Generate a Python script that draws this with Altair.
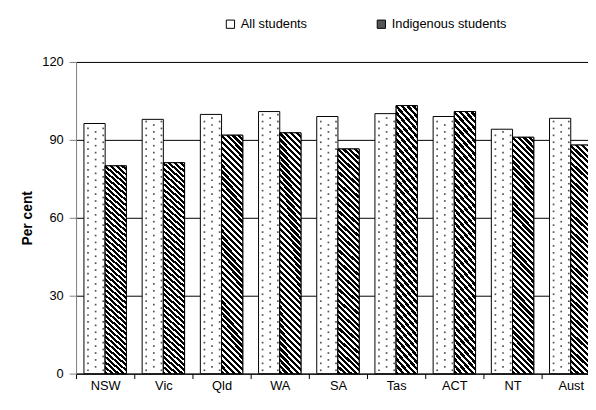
import altair as alt
import pandas as pd

categories = ["NSW", "Vic", "Qld", "WA", "SA", "Tas", "ACT", "NT", "Aust"]
all_students = [96.3, 97.9, 99.8, 100.9, 99.0, 100.1, 99.0, 94.1, 98.3]
indigenous = [80.0, 81.2, 91.8, 92.7, 86.5, 103.2, 100.9, 91.0, 88.0]
series = ["All students", "Indigenous students"]
y_ticks = [0, 30, 60, 90, 120]

rows = []
for c, a, i in zip(categories, all_students, indigenous):
    rows.append({"state": c, "series": series[0], "value": a})
    rows.append({"state": c, "series": series[1], "value": i})
df = pd.DataFrame(rows)

FONT = "Liberation Sans"
FS = 13
PLOT_W = 519
PLOT_H = 316
STEP = 59

# diagonal stripe gradient for the Indigenous bars
N = 44
stops = []
for k in range(N):
    stops.append({"offset": k / N, "color": "#000000"})
    stops.append({"offset": (k + 0.55) / N, "color": "#000000"})
    stops.append({"offset": (k + 0.55) / N, "color": "#ffffff"})
    stops.append({"offset": (k + 1) / N, "color": "#ffffff"})
ratio = 11.0
ga = (1 + ratio) / (1 + ratio * ratio)
stripes = {"gradient": "linear", "x1": 0, "y1": 1, "x2": ga, "y2": 1 - ratio * ga, "stops": stops}

xscale = alt.Scale(domain=categories, range=[0, STEP * len(categories)], paddingInner=0, paddingOuter=0)
xaxis = alt.Axis(title=None, tickBand="extent", labelAngle=0, labelFont=FONT, labelFontSize=FS,
                 labelColor="#000000", tickSize=5, tickColor="#000000", domainColor="#000000",
                 labelPadding=1, grid=False)
yscale = alt.Scale(domain=[0, 120], nice=False)
yaxis = alt.Axis(title="Per cent", values=y_ticks, titleFont=FONT, titleFontSize=14, titleFontWeight="bold",
                 titleColor="#000000", titlePadding=7, labelFont=FONT, labelFontSize=FS, labelColor="#000000",
                 labelPadding=6, tickSize=7, tickColor="#808080", domainColor="#808080",
                 grid=True, gridColor="#000000", gridOpacity=1, gridWidth=1)
xoff = alt.XOffset("series:N", scale=alt.Scale(domain=series, paddingInner=0, paddingOuter=0.372))

base = alt.Chart(df)

bars = base.mark_bar(stroke="#000000", strokeWidth=1).encode(
    x=alt.X("state:N", sort=categories, scale=xscale, axis=xaxis),
    xOffset=xoff,
    y=alt.Y("value:Q", scale=yscale, axis=yaxis),
    color=alt.Color("series:N", scale=alt.Scale(domain=series, range=["#ffffff", "#555555"]),
                    legend=alt.Legend(title=None, orient="none", legendX=150, legendY=-45,
                                      direction="horizontal", symbolType="square", symbolSize=70,
                                      symbolStrokeColor="#000000", symbolStrokeWidth=1,
                                      labelFont=FONT, labelFontSize=FS, labelColor="#000000",
                                      labelOffset=4, columnPadding=68)),
)

striped = base.transform_filter(alt.datum.series == series[1]).mark_bar(
    fill=stripes, stroke="#000000", strokeWidth=1
).encode(
    x=alt.X("state:N", sort=categories, scale=xscale, axis=xaxis),
    xOffset=xoff,
    y=alt.Y("value:Q", scale=yscale, axis=yaxis),
)

def dot_layer(band_pos, start):
    return base.transform_filter(alt.datum.series == series[0]).transform_calculate(
        ys="sequence(%f, datum.value - 0.8, 2.66)" % start
    ).transform_flatten(["ys"]).mark_square(size=3, color="#555555", opacity=1).encode(
        x=alt.X("state:N", sort=categories, scale=xscale, axis=xaxis, bandPosition=band_pos),
        y=alt.Y("ys:Q", scale=yscale, axis=yaxis),
    )

dots = [dot_layer(0.205, 1.3), dot_layer(0.336, 2.63), dot_layer(0.467, 1.3)]

chart = alt.layer(bars, striped, *dots).properties(
    width=PLOT_W, height=PLOT_H,
    autosize=alt.AutoSizeParams(type="none"),
    padding={"left": 69, "top": 52, "right": 0, "bottom": 22},
).configure_view(stroke=None).configure(background="#ffffff")

chart.save("out.html", embed_options={"renderer": "svg", "actions": False})
